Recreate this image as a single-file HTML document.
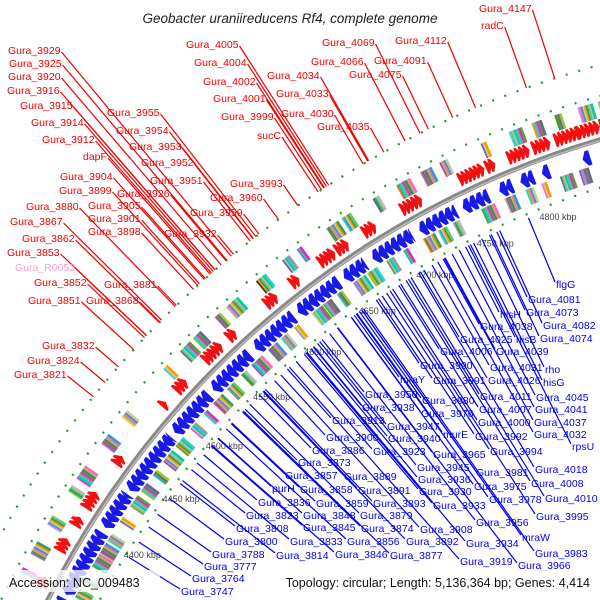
<!DOCTYPE html>
<html><head><meta charset="utf-8"><style>
html,body{margin:0;padding:0;background:#fff;overflow:hidden;width:600px;height:600px}
svg{display:block;overflow:hidden}
text{font-family:"Liberation Sans",sans-serif}
</style></head><body>
<svg id="map" width="600" height="600" viewBox="0 0 600 600" xmlns="http://www.w3.org/2000/svg">
<text x="290" y="23" text-anchor="middle" font-size="13.5" font-style="italic" fill="#222">Geobacter uraniireducens Rf4, complete genome</text>
<g id="tracks"></g>
<g id="labels"></g>
<rect x="0" y="570" width="160" height="22" fill="#fff" opacity="0.75"/>
<text x="9" y="587" font-size="12.5" fill="#111">Accession: NC_009483</text>
<rect x="255" y="570" width="345" height="22" fill="#fff" opacity="0.75"/>
<text x="590" y="587" font-size="12.5" text-anchor="end" fill="#111">Topology: circular; Length: 5,136,364 bp; Genes: 4,414</text>
</svg>
<script>
const kbpTicks=[4400,4450,4500,4550,4600,4650,4700,4750,4800];
const blueSpans=[[4315,4345],[4348,4398],[4402,4430],[4433,4480],[4484,4520],[4524,4560],[4565,4600],[4604,4640],[4644,4662],[4668,4700],[4706,4735],[4740,4760],[4768,4778],[4784,4794],[4800,4806],[4830,4836]];
const redClusters=[4345,4372,4392,4406,4442,4492,4506,4534,4556,4590,4612,4636,4650,4672,4702,4746,4766,4782,4800,4816,4832,4848];
const redCounts=[2,3,2,4,2,1,3,5,2,3,2,4,3,3,5,6,2,5,4,6,5,4];
const outerGenes=[4348,4362,4384,4410,4420,4448,4470,4512,4528,4540,4560,4570,4596,4618,4630,4654,4666,4690,4708,4726,4740,4770,4790,4806,4822,4838,4852];
const outerColors=["#3cc","#888","#c9f","#6c3","#f3c","#99c","#fc6","#3cc","#669","#6c6","#c3c","#9c9","#333","#669","#39c","#693","#3cc","#669","#f60","#888","#c3c","#669","#3cf","#f90","#393","#c9c","#6c6"];
const innerGenes=[4322,4332,4350,4362,4375,4386,4396,4412,4425,4438,4452,4464,4478,4494,4508,4518,4532,4546,4556,4572,4584,4596,4612,4622,4634,4648,4660,4676,4690,4706,4718,4730,4752,4770,4786,4798,4812,4826,4842];
const innerColors=["#39c","#c6c","#6c3","#cc9","#693","#693","#3cc","#669","#996","#9c3","#0cc","#669","#693","#c6c","#3cc","#f3c","#996","#693","#c3c","#396","#3cc","#999","#cc9","#693","#3cc","#69c","#9c3","#693","#0c9","#f90","#6cc","#999","#693","#9c9","#3cc","#f6c","#669","#c3c","#396"];
const redLabels=[["Gura_3929",8,50],["Gura_3925",9,63],["Gura_3920",8,76],["Gura_3916",7,90],["Gura_3915",20,105],["Gura_3914",31,122],["Gura_3912",42,139],["dapF",83,156],["Gura_3904",60,176],["Gura_3899",59,190],["Gura_3880",26,206],["Gura_3867",10,221],["Gura_3862",22,238],["Gura_3853",7,252],["Gura_R0052",15,267],["Gura_3852",34,282],["Gura_3851",28,300],["Gura_3832",42,345],["Gura_3824",27,360],["Gura_3821",14,374],["Gura_3955",107,112],["Gura_3954",116,130],["Gura_3953",129,146],["Gura_3952",141,162],["Gura_3951",150,180],["Gura_3926",117,193],["Gura_3905",88,205],["Gura_3901",88,218],["Gura_3898",88,231],["Gura_3932",164,233],["Gura_3959",190,212],["Gura_3960",210,197],["Gura_3993",230,183],["Gura_3881",104,284],["Gura_3868",86,300],["Gura_4005",186,44],["Gura_4004",194,62],["Gura_4002",203,81],["Gura_4001",213,98],["Gura_3999",221,116],["sucC",257,135],["Gura_4034",267,75],["Gura_4033",276,93],["Gura_4030",281,113],["Gura_4035",317,126],["Gura_4069",322,42],["Gura_4066",311,61],["Gura_4075",349,74],["Gura_4091",374,60],["Gura_4112",395,40],["Gura_4147",479,8],["radC",481,25]];
const blueLabels=[["flgG",556,284],["Gura_4081",528,299],["Gura_4073",526,312],["Gura_4082",543,325],["Gura_4074",540,338],["hisH",500,314],["Gura_4038",480,326],["Gura_4025",460,339],["hisB",516,339],["Gura_4006",440,351],["Gura_4039",496,351],["Gura_3990",420,365],["Gura_4031",490,367],["rho",545,369],["mraY",400,379],["Gura_3991",433,380],["Gura_4026",488,380],["hisG",543,382],["Gura_3950",365,394],["Gura_3980",422,400],["Gura_4011",480,396],["Gura_4045",536,397],["Gura_3938",362,407],["Gura_3976",421,413],["Gura_4007",479,409],["Gura_4041",535,409],["Gura_3913",332,420],["Gura_3947",387,426],["Gura_4000",478,422],["Gura_4037",534,422],["Gura_3900",326,437],["Gura_3940",388,438],["murE",443,434],["Gura_3992",475,436],["Gura_4032",534,434],["rpsU",572,446],["Gura_3886",312,450],["Gura_3923",373,451],["Gura_3965",433,454],["Gura_3994",490,451],["Gura_3873",298,462],["Gura_3857",285,475],["Gura_3889",344,476],["Gura_3945",417,467],["Gura_3981",476,472],["Gura_4018",535,469],["purH",272,488],["Gura_3858",300,489],["Gura_3891",358,490],["Gura_3936",418,479],["Gura_3975",474,486],["Gura_4008",531,483],["Gura_3836",258,502],["Gura_3859",316,503],["Gura_3893",373,503],["Gura_3930",419,491],["Gura_3978",489,499],["Gura_4010",545,498],["Gura_3823",246,515],["Gura_3848",303,515],["Gura_3879",360,515],["Gura_3933",433,505],["Gura_3995",536,516],["Gura_3808",236,528],["Gura_3845",303,527],["Gura_3874",361,528],["Gura_3908",420,529],["Gura_3956",476,522],["mraW",522,537],["Gura_3800",225,541],["Gura_3833",290,541],["Gura_3856",347,541],["Gura_3892",406,541],["Gura_3934",466,543],["Gura_3983",535,553],["Gura_3788",212,554],["Gura_3814",276,555],["Gura_3846",335,554],["Gura_3877",390,555],["Gura_3919",460,561],["Gura_3966",518,565],["Gura_3777",204,566],["Gura_3764",192,578],["Gura_3747",181,591]];

const NS="http://www.w3.org/2000/svg";
const CX=855,CY=1007,R=904;
const palette=["#3cc","#999","#c3c","#693","#669","#9c3","#f6c","#39c","#cc9","#f90","#396","#6c6","#bbb","#0c9"];
function ang(k){return (-147.6+(k-4400)*0.0925)*Math.PI/180;}
function pt(k,r){const a=ang(k);return [CX+r*Math.cos(a),CY+r*Math.sin(a)];}
function mk(tag,attrs,parent){const e=document.createElementNS(NS,tag);for(const k in attrs)e.setAttribute(k,attrs[k]);parent.appendChild(e);return e;}
const tracks=document.getElementById('tracks');
const labelsG=document.getElementById('labels');
const K0=4300,K1=4870;
function arcPath(k0,k1,r){const a=pt(k0,r),b=pt(k1,r);return `M${a[0]},${a[1]} A${r},${r} 0 0 1 ${b[0]},${b[1]}`;}

let bb=mk('path',{d:arcPath(K0,K1,R),stroke:'#888',"stroke-width":5,fill:'none'},tracks);


let bb2=mk('path',{d:arcPath(K0,K1,R-1),stroke:'#bbb',"stroke-width":1.5,fill:'none'},tracks);


[[R+42,'outer-dots'],[R+72,'outermost-dots'],[R-46,'inner-dots']].forEach(([r,n])=>{
  const e=mk('path',{d:arcPath(K0,K1,r),stroke:'#293',"stroke-width":2.2,fill:'none',"stroke-dasharray":"2 11"},tracks);
  
  
});
function arrow(k0,k1,r,w,fwd,color,headLen){
  const t=Math.min(headLen,(k1-k0)*0.8);
  let p;
  if(fwd){p=[pt(k0,r-w/2),pt(k1-t,r-w/2),pt(k1,r),pt(k1-t,r+w/2),pt(k0,r+w/2)];}
  else{p=[pt(k1,r-w/2),pt(k0+t,r-w/2),pt(k0,r),pt(k0+t,r+w/2),pt(k1,r+w/2)];}
  return mk('polygon',{points:p.map(q=>q[0].toFixed(1)+','+q[1].toFixed(1)).join(' '),fill:color},tracks);
}
blueSpans.forEach(s=>{
  for(let k=s[0];k<s[1]-1;k+=5){
    const e=arrow(k,Math.min(k+5.6,s[1]),R-14,15,false,'#1a1ae6',3);
    
    
  }
});
redClusters.forEach((k,ci)=>{
  const n=redCounts[ci];
  for(let i=0;i<n;i++){
    const e=arrow(k+i*3,k+i*3+4,R+13,14,true,'#f21010',2.6);
    
    
  }
});
function geneBox(k,r,color,n,idx){
  const count=3+(idx*5%7);
  for(let j=0;j<count;j++){
    const kk=k+j*1.1;
    const a=pt(kk,r-8),b=pt(kk,r+8);
    const c=j===0?color:palette[(idx*3+j)%palette.length];
    const e=mk('line',{x1:a[0],y1:a[1],x2:b[0],y2:b[1],stroke:c,"stroke-width":2.6},tracks);
    
    
  }
}
outerGenes.forEach((k,i)=>geneBox(k,R+29,outerColors[i%outerColors.length],'outer-gene-feature',i));
innerGenes.forEach((k,i)=>geneBox(k,R-31,innerColors[i%innerColors.length],'inner-gene-feature',i));
kbpTicks.forEach(k=>{
  const p=pt(k,R-60);
  const t=mk('text',{x:p[0],y:p[1]+3,"font-size":9,"text-anchor":"middle",fill:'#444'},tracks);
  t.textContent=k+' kbp';
  
  
});
function addLabel(item,color,outer){
  const [txt,x,y]=item;
  const t=mk('text',{x:x,y:y+4,"font-size":10.5,fill:txt==="Gura_R0052"?'#f8a0d0':color},labelsG);
  t.textContent=txt;
  
  
  const w=t.getComputedTextLength();
  let sx,sy;
  if(outer){sx=x+w+1;sy=y+2;}else{sx=x-1;sy=y-2;}
  const a=Math.atan2(sy-CY,sx-CX);
  const r=outer?R+72:R-50;
  const ex=CX+r*Math.cos(a),ey=CY+r*Math.sin(a);
  const l=mk('line',{x1:sx,y1:sy,x2:ex,y2:ey,stroke:color,"stroke-width":1.2},labelsG);
  
  
}
redLabels.forEach(it=>addLabel(it,'#f00000',true));
blueLabels.forEach(it=>addLabel(it,'#0000ee',false));
</script>
</body></html>
